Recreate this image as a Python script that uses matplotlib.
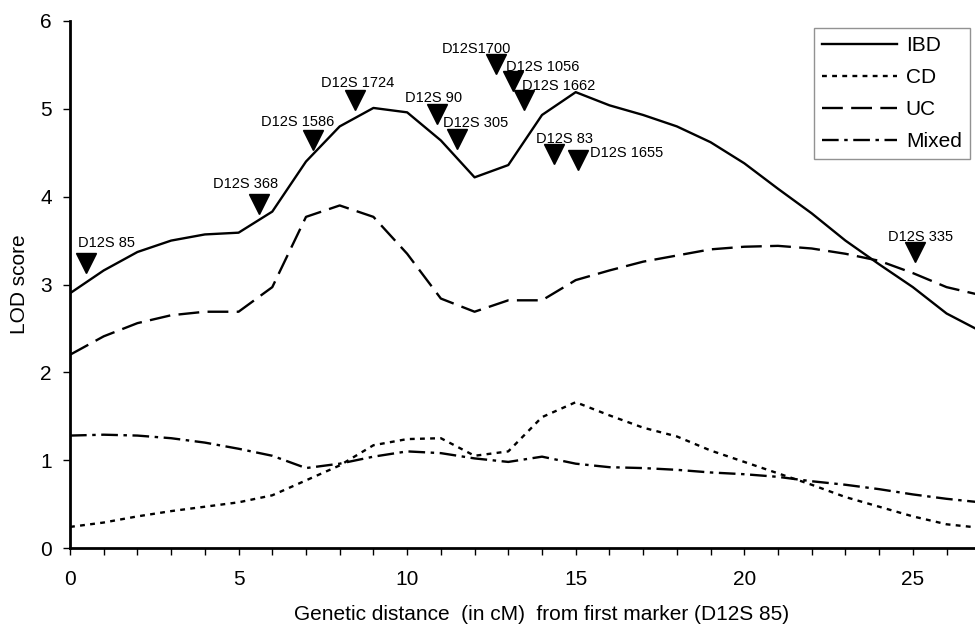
import numpy as np
import matplotlib
matplotlib.use("Agg")
import matplotlib.pyplot as plt

plt.rcParams['font.family'] = ['Liberation Sans', 'DejaVu Sans']
plt.rcParams['lines.scale_dashes'] = False

# distance along chromosome (cM)
dist = list(range(28))

ibd = [2.90, 3.16, 3.37, 3.50, 3.57, 3.59, 3.83, 4.40, 4.80, 5.01, 4.96, 4.64, 4.22, 4.36,
       4.93, 5.19, 5.04, 4.93, 4.80, 4.62, 4.38, 4.09, 3.81, 3.50, 3.23, 2.97, 2.67, 2.47]
cd = [0.24, 0.29, 0.36, 0.42, 0.47, 0.52, 0.60, 0.77, 0.94, 1.17, 1.24, 1.25, 1.05, 1.10,
      1.49, 1.66, 1.51, 1.37, 1.27, 1.11, 0.98, 0.85, 0.72, 0.58, 0.47, 0.36, 0.27, 0.23]
uc = [2.20, 2.41, 2.56, 2.65, 2.69, 2.69, 2.97, 3.77, 3.90, 3.77, 3.35, 2.84, 2.69, 2.82,
      2.82, 3.05, 3.16, 3.26, 3.33, 3.40, 3.43, 3.44, 3.41, 3.35, 3.27, 3.13, 2.97, 2.88]
mixed = [1.28, 1.29, 1.28, 1.25, 1.20, 1.13, 1.05, 0.91, 0.96, 1.04, 1.10, 1.08, 1.02, 0.98,
         1.04, 0.96, 0.92, 0.91, 0.89, 0.86, 0.84, 0.81, 0.76, 0.72, 0.67, 0.61, 0.56, 0.52]

# markers (triangles) and their names
marker_names = ["D12S 85", "D12S 368", "D12S 1586", "D12S 1724", "D12S 90", "D12S 305",
                "D12S1700", "D12S 1056", "D12S 1662", "D12S 83", "D12S 1655", "D12S 335"]
marker_x = [0.47, 5.60, 7.22, 8.46, 10.88, 11.47, 12.64, 13.15, 13.47, 14.36, 15.08, 25.07]
marker_y = [3.25, 3.92, 4.64, 5.10, 4.94, 4.66, 5.51, 5.32, 5.10, 4.49, 4.42, 3.37]
# label offsets from the triangle, in pixels (right, up)
label_dx = [-8, -46, -52, -34, -32, -14, -54, -7, -2, -18, 12, -27]
label_dy = [20, 20, 18, 17, 16, 16, 15, 14, 14, 15, 7, 15]

fig = plt.figure(figsize=(9.75, 6.28), dpi=100)
# the x axis runs to 28 cM, a bit past the right edge of the picture
ax = fig.add_axes([70 / 975, 1 - 548 / 628, (1014 - 70) / 975, (548 - 21) / 628])

ax.plot(dist, ibd, color='black', lw=1.7, label='IBD')
ax.plot(dist, cd, color='black', lw=1.7, dashes=(3.5, 3.8), label='CD')
ax.plot(dist, uc, color='black', lw=1.7, dashes=(15, 6), label='UC')
ax.plot(dist, mixed, color='black', lw=1.7, dashes=(12, 4, 2.5, 4), label='Mixed')

ax.plot(marker_x, marker_y, linestyle='none', marker='v', markersize=14,
        color='black')
for name, x, y, dx, dy in zip(marker_names, marker_x, marker_y, label_dx, label_dy):
    ax.annotate(name, (x, y), xytext=(dx * 0.72, dy * 0.72), textcoords='offset points',
                ha='left', va='center', fontsize=10.5)

ax.set_xlim(0, 28)
ax.set_ylim(0, 6)
ax.set_xticks(range(0, 29))
ax.set_xticklabels([str(v) if v % 5 == 0 else '' for v in range(0, 29)])
ax.set_yticks(range(0, 7))
ax.tick_params(axis='both', direction='out', length=5, width=1, labelsize=15)
ax.tick_params(axis='x', pad=11)
ax.tick_params(axis='y', pad=8)
for s in ['top', 'right']:
    ax.spines[s].set_visible(False)
for s in ['left', 'bottom']:
    ax.spines[s].set_linewidth(2)

ax.set_xlabel('Genetic distance  (in cM)  from first marker (D12S 85)', fontsize=15, labelpad=11)
ax.set_ylabel('LOD score', fontsize=15, labelpad=8)

leg = ax.legend(loc='upper right', bbox_to_anchor=(970 / 975, 1 - 28 / 628),
                bbox_transform=fig.transFigure, borderaxespad=0, fontsize=15,
                frameon=True, fancybox=False, edgecolor='#777777', handlelength=3.6,
                borderpad=0.4, labelspacing=0.62, handletextpad=0.4)
leg.get_frame().set_linewidth(1.0)

fig.savefig('out.png', dpi=100)
